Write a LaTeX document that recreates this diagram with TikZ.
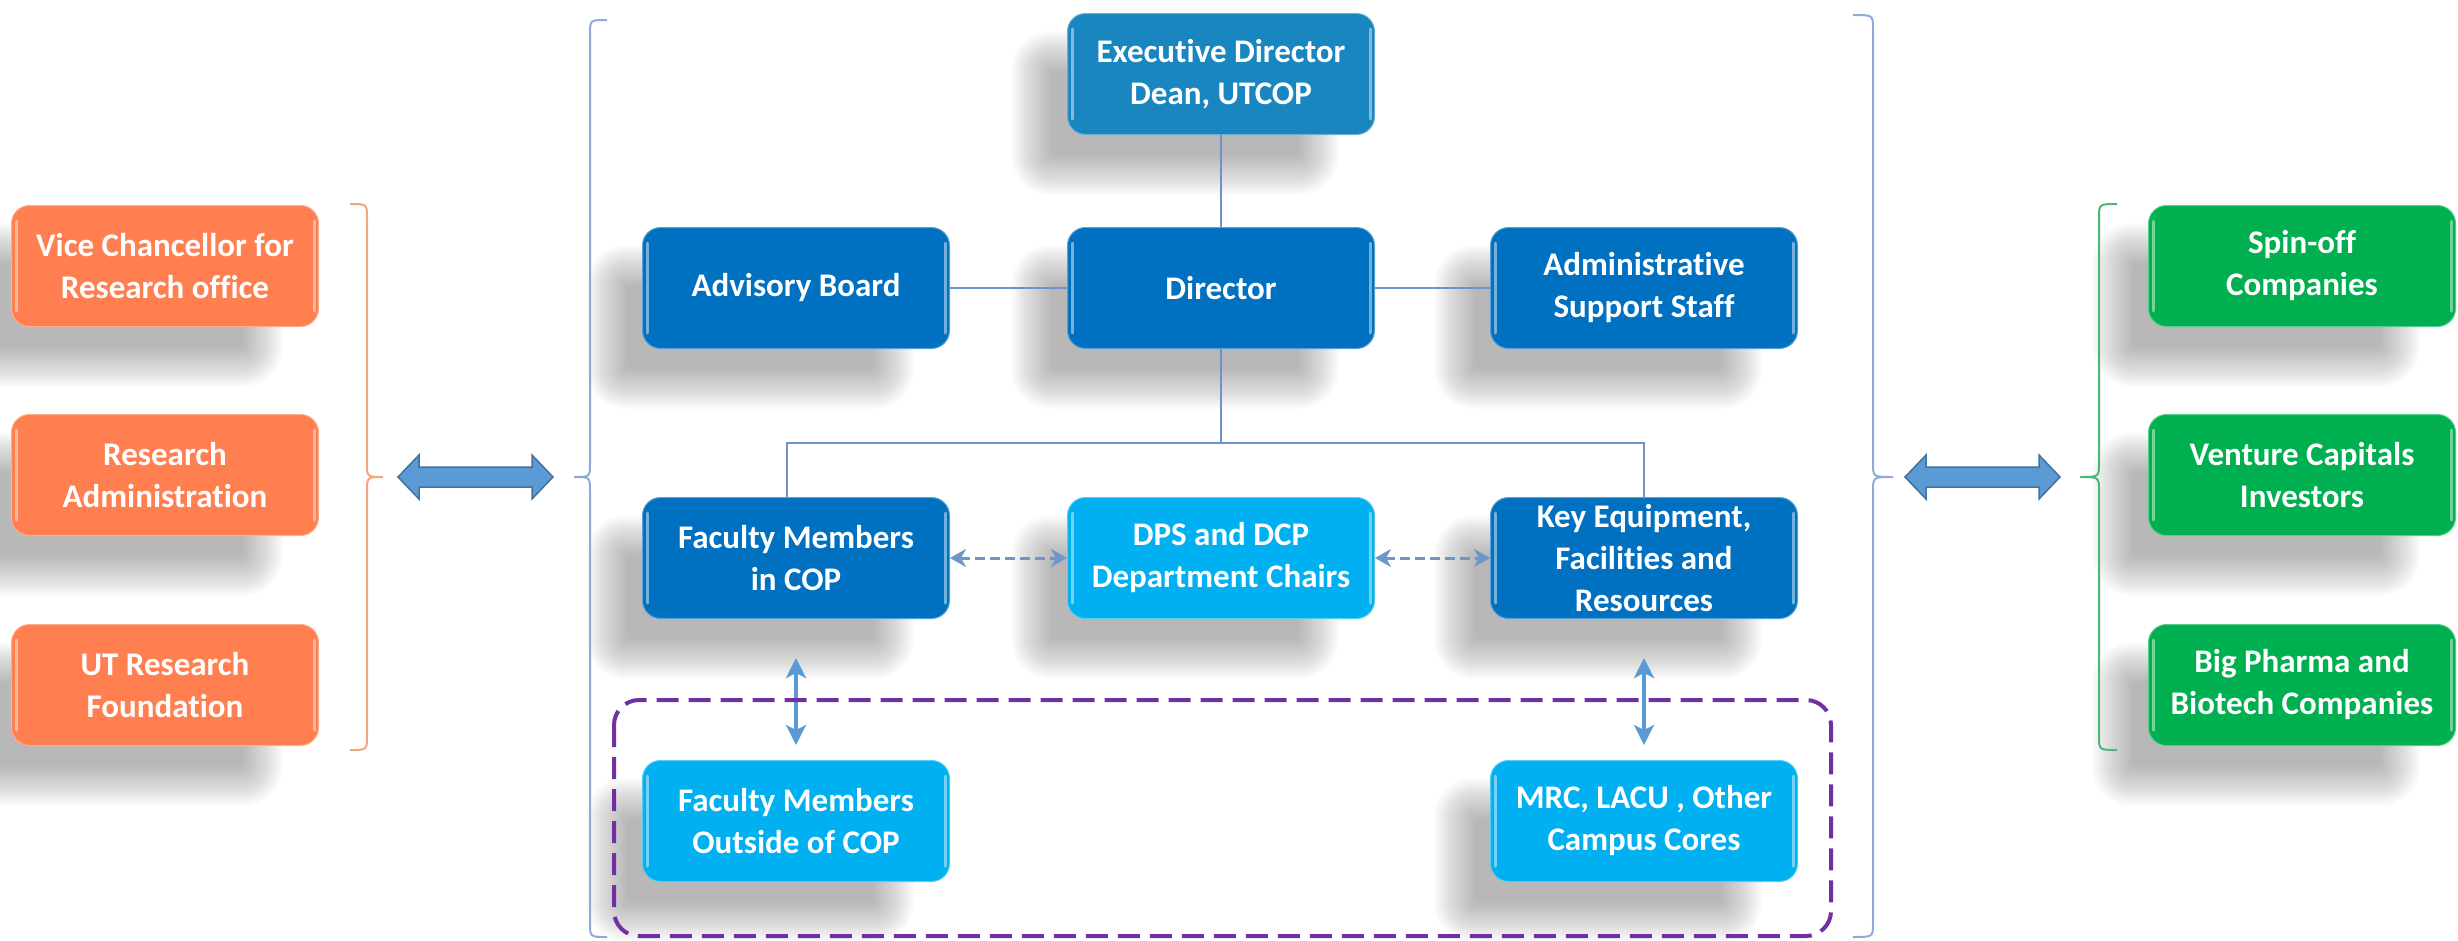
\documentclass[tikz,border=0pt]{standalone}
\usepackage{fontspec}
\setmainfont{Carlito}[Ligatures=NoCommon]
\usetikzlibrary{arrows.meta}
\definecolor{cOr}{HTML}{FF7F50}
\definecolor{cEx}{HTML}{1A86C0}
\definecolor{cDk}{HTML}{0070C0}
\definecolor{cLt}{HTML}{00B0F0}
\definecolor{cGr}{HTML}{00B050}
\definecolor{cLine}{HTML}{6C93CB}
\definecolor{cArr}{HTML}{5B9BD5}
\definecolor{cDash}{HTML}{6F96CA}
\definecolor{cArrD}{HTML}{41719C}
\definecolor{cPur}{HTML}{7030A0}
\definecolor{cBrO}{HTML}{F4A582}
\definecolor{cBrB}{HTML}{8FAAD6}
\definecolor{cBrG}{HTML}{4CB77A}
\pgfdeclarelayer{bg}
\pgfsetlayers{bg,main}
\tikzset{
  box/.style={rounded corners=18pt, minimum width=307pt, minimum height=121pt,
    inner sep=0pt, text=white, align=center,
    font=\bfseries\fontsize{33}{42}\selectfont,
    draw=#1!65!white, line width=1pt, fill=#1},
  link/.style={draw=cLine, line width=2pt},
  dasharr/.style={draw=cDash, line width=3pt, dash pattern=on 10pt off 5pt,
    {Stealth[length=16pt,width=18pt,inset=5pt]}-{Stealth[length=16pt,width=18pt,inset=5pt]}},
  vertarr/.style={draw=cArr, line width=3.5pt,
    {Stealth[length=20pt,width=20pt,inset=5pt]}-{Stealth[length=20pt,width=20pt,inset=5pt]}},
  blockarr/.style={fill=cArr, draw=cArrD, line width=1.5pt},
  brace/.style={line width=2pt},
}
\newcommand\boxshadow[1]{%
  \begin{pgfonlayer}{bg}
  \foreach \k in {0,...,20}{%
    \pgfmathsetmacro\e{22-2*\k}%
    \pgfmathsetmacro\r{max(18+\e,4)}%
    \fill[black, opacity=0.014, rounded corners=\r pt]
      ([shift={(-34pt-\e pt,-38pt-\e pt)}]#1.south west) rectangle
      ([shift={(-58pt+\e pt,-40pt+\e pt)}]#1.north east);
  }
  \end{pgfonlayer}}
\newcommand\gloss[1]{%
  \draw[white, opacity=0.45, line width=3pt, line cap=round]
    ([shift={(5pt,-16pt)}]#1.north west) -- ([shift={(5pt,16pt)}]#1.south west);
  \draw[white, opacity=0.45, line width=3pt, line cap=round]
    ([shift={(-5pt,-16pt)}]#1.north east) -- ([shift={(-5pt,16pt)}]#1.south east);
}
\begin{document}
\begin{tikzpicture}[x=1pt,y=-1pt]
\useasboundingbox (0,0) rectangle (2458,940);

% left group
\node[box=cOr] (o1) at (165,266) {Vice Chancellor for\\Research office};
\node[box=cOr] (o2) at (165,475) {Research\\Administration};
\node[box=cOr] (o3) at (165,685) {UT Research\\Foundation};

% centre
\node[box=cEx] (exec) at (1221,74) {Executive Director\\Dean, UTCOP};
\node[box=cDk] (adv) at (796,288) {Advisory Board};
\node[box=cDk] (dir) at (1221,288) {Director};
\node[box=cDk] (adm) at (1644,288) {Administrative\\Support Staff};
\node[box=cDk] (fac) at (796,558) {Faculty Members\\in COP};
\node[box=cLt] (dps) at (1221,558) {DPS and DCP\\Department Chairs};
\node[box=cDk] (key) at (1644,558) {Key Equipment,\\Facilities and\\Resources};
\node[box=cLt] (fout) at (796,821) {Faculty Members\\Outside of COP};
\node[box=cLt] (mrc) at (1644,821) {MRC, LACU , Other\\Campus Cores};

% right group
\node[box=cGr] (g1) at (2302,266) {Spin-off\\Companies};
\node[box=cGr] (g2) at (2302,475) {Venture Capitals\\Investors};
\node[box=cGr] (g3) at (2302,685) {Big Pharma and\\Biotech Companies};

\foreach \n in {o1,o2,o3,exec,adv,dir,adm,fac,dps,key,fout,mrc,g1,g2,g3}{\boxshadow{\n}\gloss{\n}}

% connectors
\coordinate (bus) at (1221,443);
\draw[link] (exec) -- (dir);
\draw[link] (adv) -- (dir);
\draw[link] (dir) -- (adm);
\draw[link] (dir.south) -- (bus);
\draw[link] ([xshift=-9pt]fac.north) |- (bus) -| (key.north);
\draw[dasharr] (fac.east) -- (dps.west);
\draw[dasharr] (dps.east) -- (key.west);
\draw[vertarr, shorten <=39pt, shorten >=15pt] (fac.south) -- (fout.north);
\draw[vertarr, shorten <=39pt, shorten >=15pt] (key.south) -- (mrc.north);

% dashed group frame
\draw[cPur, line width=4pt, dash pattern=on 22pt off 10pt, rounded corners=25pt]
  (614,700) rectangle (1831,936);

% braces
\draw[brace, cBrO] (350,204) .. controls (367,204) .. (367,218) -- (367,463)
  .. controls (367,477) .. (383,477) .. controls (367,477) .. (367,491)
  -- (367,736) .. controls (367,750) .. (350,750);
\draw[brace, cBrB] (607,20) .. controls (590,20) .. (590,34) -- (590,463)
  .. controls (590,477) .. (574,477) .. controls (590,477) .. (590,491)
  -- (590,923) .. controls (590,937) .. (607,937);
\draw[brace, cBrB] (1853,15) .. controls (1873,15) .. (1873,29) -- (1873,463)
  .. controls (1873,477) .. (1893,477) .. controls (1873,477) .. (1873,491)
  -- (1873,923) .. controls (1873,937) .. (1853,937);
\draw[brace, cBrG] (2117,204) .. controls (2099,204) .. (2099,218) -- (2099,463)
  .. controls (2099,477) .. (2080,477) .. controls (2099,477) .. (2099,491)
  -- (2099,736) .. controls (2099,750) .. (2117,750);

% block double arrows
\draw[blockarr] (398,477) -- (419,455) -- (419,467) -- (532,467) -- (532,455)
  -- (553,477) -- (532,499) -- (532,487) -- (419,487) -- (419,499) -- cycle;
\draw[blockarr] (1905,477) -- (1926,455) -- (1926,467) -- (2039,467) -- (2039,455)
  -- (2060,477) -- (2039,499) -- (2039,487) -- (1926,487) -- (1926,499) -- cycle;
\end{tikzpicture}
\end{document}
